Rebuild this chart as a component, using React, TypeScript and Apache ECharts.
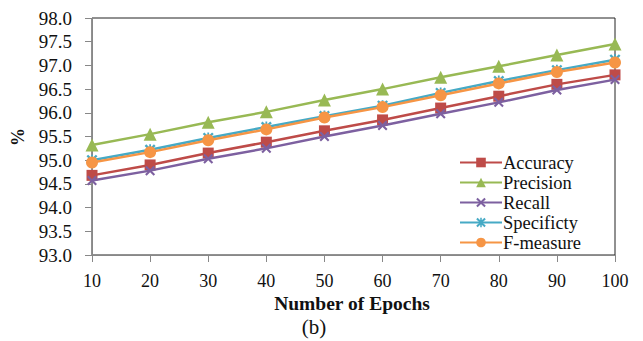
import React, { useEffect, useRef } from "react";
import * as echarts from "echarts";

const epochs = [10, 20, 30, 40, 50, 60, 70, 80, 90, 100];
const accuracy = [94.68, 94.9, 95.15, 95.38, 95.62, 95.85, 96.1, 96.35, 96.6, 96.8];
const precision = [95.32, 95.55, 95.8, 96.02, 96.27, 96.5, 96.75, 96.98, 97.22, 97.45];
const recall = [94.57, 94.78, 95.03, 95.25, 95.5, 95.73, 95.98, 96.22, 96.48, 96.7];
const specificity = [95.0, 95.22, 95.47, 95.7, 95.93, 96.15, 96.42, 96.67, 96.9, 97.12];
const fmeasure = [94.95, 95.17, 95.42, 95.65, 95.9, 96.12, 96.37, 96.62, 96.86, 97.06];

const seriesNames = ["Accuracy", "Precision", "Recall", "Specificty", "F-measure"];
const yMin = 93;
const yMax = 98;
const yStep = 0.5;

const FONT = "'Liberation Serif', 'Times New Roman', serif";

const xPath =
  "path://M0,1.5 L1.5,0 L5,3.5 L8.5,0 L10,1.5 L6.5,5 L10,8.5 L8.5,10 L5,6.5 L1.5,10 L0,8.5 L3.5,5 Z";
const starPath =
  "path://M0,1.5 L1.5,0 L5,3.5 L8.5,0 L10,1.5 L6.5,5 L10,8.5 L8.5,10 L5,6.5 L1.5,10 L0,8.5 L3.5,5 Z M4.2,0 L5.8,0 L5.8,10 L4.2,10 Z";

export default function App() {
  const ref = useRef<HTMLDivElement>(null);
  useEffect(() => {
    if (!ref.current) return;
    const chart = echarts.init(ref.current, undefined, { renderer: "svg" });
    const colors = ["#BE4B48", "#98B954", "#7D60A0", "#46AAC5", "#F69545"];
    const symbols = ["rect", "triangle", xPath, starPath, "circle"];
    const sizes = [11, 13, 10, 11, 12];
    const datasets = [accuracy, precision, recall, specificity, fmeasure];
    chart.setOption({
      animation: false,
      backgroundColor: "#ffffff",
      grid: {
        left: 92,
        right: 28,
        top: 18,
        bottom: 86,
        show: true,
        borderColor: "#222",
        borderWidth: 1,
        backgroundColor: "transparent",
      },
      legend: {
        orient: "vertical",
        left: 454,
        top: 148,
        itemWidth: 42,
        itemHeight: 12,
        itemGap: 1,
        textStyle: { fontFamily: FONT, fontSize: 18.5, color: "#111", lineHeight: 18, padding: [0, 0, 0, -4] },
        data: seriesNames,
      },
      xAxis: {
        type: "value",
        min: 10,
        max: 100,
        interval: 10,
        axisLine: { lineStyle: { color: "#888", width: 1 } },
        axisTick: { show: true, length: 7, inside: false, lineStyle: { color: "#888" } },
        splitLine: { show: false },
        axisLabel: { fontFamily: FONT, fontSize: 18, color: "#111", margin: 18, lineHeight: 16 },
      },
      yAxis: {
        type: "value",
        min: yMin,
        max: yMax,
        interval: yStep,
        axisLine: { show: true, lineStyle: { color: "#888", width: 1 } },
        axisTick: { show: true, length: 7, inside: false, lineStyle: { color: "#888" } },
        splitLine: { show: false },
        axisLabel: {
          fontFamily: FONT,
          fontSize: 19,
          color: "#111",
          margin: 20,
          formatter: (v: number) => v.toFixed(1),
        },
      },
      graphic: [
        {
          type: "text",
          x: 352,
          y: 303,
          style: {
            text: "Number of Epochs",
            font: `bold 19.5px ${FONT}`,
            fill: "#111",
            align: "center",
            verticalAlign: "middle",
          },
        },
        {
          type: "text",
          x: 18,
          y: 137,
          rotation: Math.PI / 2,
          style: {
            text: "%",
            font: `bold 18px ${FONT}`,
            fill: "#111",
            align: "center",
            verticalAlign: "middle",
          },
        },
        {
          type: "text",
          x: 314,
          y: 327,
          style: {
            text: "(b)",
            font: `21px ${FONT}`,
            fill: "#111",
            align: "center",
            verticalAlign: "middle",
          },
        },
      ],
      series: datasets.map((d, i) => ({
        name: seriesNames[i],
        type: "line",
        data: d.map((v, j) => [epochs[j], v]),
        symbol: symbols[i],
        symbolSize: sizes[i],
        showAllSymbol: true,
        lineStyle: { color: colors[i], width: 2.5 },
        itemStyle: { color: colors[i], borderWidth: 0 },
        z: i === 4 ? 6 : 2 + i,
      })),
    });
    return () => chart.dispose();
  }, []);
  return <div ref={ref} style={{ width: 643, height: 341, position: "absolute", left: 0, top: 0 }} />;
}
